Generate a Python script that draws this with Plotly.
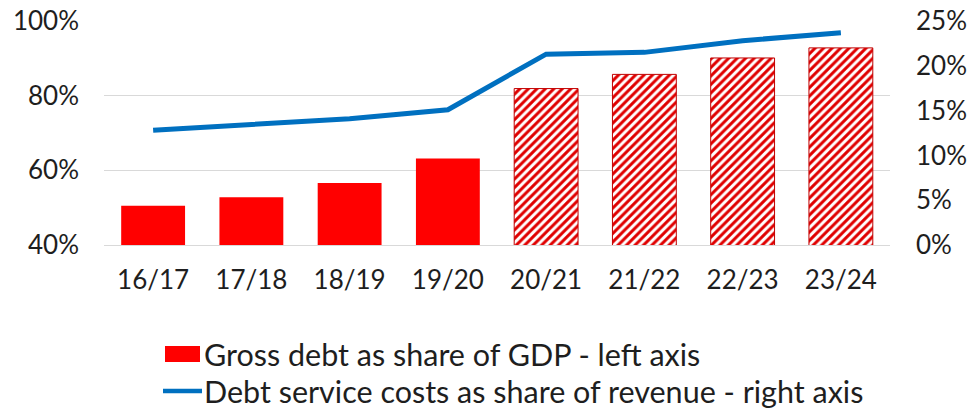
import plotly.graph_objects as go

# Fiscal years
years = ["16/17", "17/18", "18/19", "19/20", "20/21", "21/22", "22/23", "23/24"]
# Gross debt as share of GDP (%), left axis; last four years are projections (hatched)
gross_debt_gdp = [50.5, 52.8, 56.6, 63.2, 81.9, 85.7, 90.1, 92.8]
n_actual = 4
# Debt service costs as share of revenue (%), right axis
debt_service_rev = [12.8, 13.4, 14.1, 15.1, 21.3, 21.5, 22.8, 23.7]

left_ticks = [40, 60, 80, 100]
right_ticks = [0, 5, 10, 15, 20, 25]

RED = "#ff0000"
HATCH_RED = "#e00000"
DARK_RED = "#c00000"
BLUE = "#0070c0"
TEXT = "#1e1e1e"
FONT = "Lato"
TICK_SIZE = 26
LEG_SIZE = 30.5

W, H = 971, 410
# plot area in pixels
PL, PR, PT, PB = 104, 890, 21, 245

fig = go.Figure()

# actual years: solid bars
fig.add_trace(go.Bar(
    x=years[:n_actual],
    y=gross_debt_gdp[:n_actual],
    marker=dict(color=RED, line=dict(width=0)),
    name="Gross debt as share of GDP - left axis",
    showlegend=False,
))

# projected years: hatched bars
fig.add_trace(go.Bar(
    x=years[n_actual:],
    y=gross_debt_gdp[n_actual:],
    marker=dict(
        color=RED,
        line=dict(color=DARK_RED, width=1),
        pattern=dict(shape="/", size=6, solidity=0.5,
                     fgcolor=HATCH_RED, bgcolor="white", fillmode="replace"),
    ),
    name="Gross debt as share of GDP (projection)",
    showlegend=False,
))

fig.add_trace(go.Scatter(
    x=years,
    y=debt_service_rev,
    mode="lines",
    line=dict(color=BLUE, width=5),
    name="Debt service costs as share of revenue - right axis",
    showlegend=False,
    yaxis="y2",
))


def px_x(px):
    return (px - PL) / (PR - PL)


def px_y(py):
    return (PB - py) / (PB - PT)


# legend drawn below the plot
shapes = [
    dict(type="rect", xref="paper", yref="paper",
         x0=px_x(165), x1=px_x(200), y0=px_y(362), y1=px_y(346),
         fillcolor=RED, line=dict(width=0)),
    dict(type="line", xref="paper", yref="paper",
         x0=px_x(163), x1=px_x(202), y0=px_y(391), y1=px_y(391),
         line=dict(color=BLUE, width=4.5)),
]
annotations = [
    dict(text="Gross debt as share of GDP - left axis", xref="paper", yref="paper",
         x=px_x(202), y=px_y(354), xanchor="left", yanchor="middle",
         showarrow=False, font=dict(family=FONT, size=LEG_SIZE, color=TEXT)),
    dict(text="Debt service costs as share of revenue - right axis", xref="paper", yref="paper",
         x=px_x(202), y=px_y(391), xanchor="left", yanchor="middle",
         showarrow=False, font=dict(family=FONT, size=LEG_SIZE, color=TEXT)),
]

fig.update_layout(
    width=W, height=H,
    margin=dict(l=PL, r=W - PR, t=PT, b=H - PB, autoexpand=False),
    paper_bgcolor="white", plot_bgcolor="white",
    barmode="overlay",
    bargap=0.35,
    font=dict(family=FONT, size=TICK_SIZE, color=TEXT),
    xaxis=dict(
        type="category", categoryorder="array", categoryarray=years,
        showline=True, linecolor="#d9d9d9", linewidth=1,
        showgrid=False, ticks="", ticklabelstandoff=12,
        tickfont=dict(size=TICK_SIZE), automargin=False,
    ),
    yaxis=dict(
        range=[40, 100], tickmode="array", tickvals=left_ticks,
        ticktext=[f"{v}%" for v in left_ticks],
        showgrid=True, gridcolor="#d9d9d9", gridwidth=1,
        zeroline=False, showline=False, ticks="", ticklabelstandoff=24,
        tickfont=dict(size=TICK_SIZE), automargin=False,
    ),
    yaxis2=dict(
        range=[0, 25], tickmode="array", tickvals=right_ticks,
        ticktext=[f"{v}%" for v in right_ticks],
        overlaying="y", side="right",
        showgrid=False, zeroline=False, showline=False, ticks="",
        ticklabelstandoff=25, tickfont=dict(size=TICK_SIZE), automargin=False,
    ),
    shapes=shapes,
    annotations=annotations,
)

fig.write_html("out.html")
